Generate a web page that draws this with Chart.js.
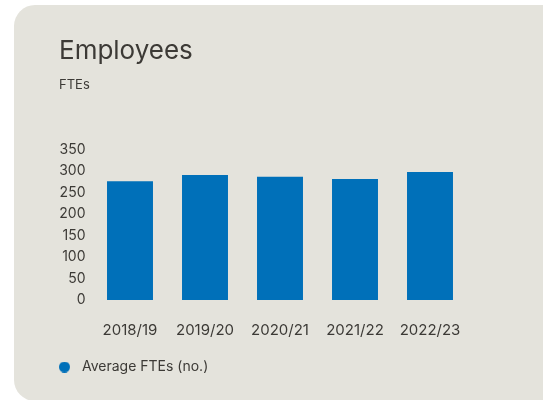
<!DOCTYPE html>
<html>
<head>
<meta charset="utf-8">
<script src="https://cdn.jsdelivr.net/npm/chart.js@4"></script>
<style>
    html, body { margin: 0; padding: 0; background: #ffffff; overflow: hidden; }
    body { width: 543px; height: 400px; position: relative; }
    .card {
        position: absolute; left: 14px; top: 5px;
        width: 600px; height: 396px;
        background: #e4e3dc; border-radius: 21px;
    }
    .card canvas { position: absolute; left: 0; top: 0; }
</style>
</head>
<body>
<div class="card">
    <canvas id="employees-chart" width="529" height="395"></canvas>
</div>
<script>
// Dados do gráfico
const years = ['2018/19', '2019/20', '2020/21', '2021/22', '2022/23'];
const averageFtes = [277, 291, 287, 282, 298];
const yTicks = [0, 50, 100, 150, 200, 250, 300, 350];

const barColor = '#0070b9';
const textColor = '#3c3a36';
const fontFamily = 'Inter, "Noto Sans", sans-serif';

// Marcador circular da legenda (com espaço à direita antes do texto)
const legendDot = document.createElement('canvas');
legendDot.width = 16;
legendDot.height = 11;
const dotCtx = legendDot.getContext('2d');
dotCtx.fillStyle = barColor;
dotCtx.beginPath();
dotCtx.arc(5.5, 5.5, 5.5, 0, Math.PI * 2);
dotCtx.fill();

const ctx = document.getElementById('employees-chart').getContext('2d');

new Chart(ctx, {
    type: 'bar',
    data: {
        labels: years,
        datasets: [{
            label: 'Average FTEs (no.)',
            data: averageFtes,
            backgroundColor: barColor,
            barPercentage: 0.613,
            categoryPercentage: 1
        }]
    },
    options: {
        responsive: false,
        animation: false,
        layout: {
            padding: { left: 45, right: 75.5, top: 0, bottom: 16 }
        },
        plugins: {
            title: {
                display: true,
                text: 'Employees',
                align: 'start',
                color: textColor,
                font: { family: fontFamily, size: 26, weight: 'normal' },
                padding: { top: 31, bottom: 0 }
            },
            subtitle: {
                display: true,
                text: 'FTEs',
                align: 'start',
                color: textColor,
                font: { family: fontFamily, size: 13, weight: 'normal' },
                padding: { top: 10, bottom: 57 }
            },
            legend: {
                position: 'bottom',
                align: 'start',
                labels: {
                    usePointStyle: true,
                    pointStyle: legendDot,
                    pointStyleWidth: 16,
                    boxHeight: 11,
                    padding: 0,
                    color: textColor,
                    font: { family: fontFamily, size: 14 }
                }
            },
            tooltip: { enabled: false }
        },
        scales: {
            x: {
                grid: { display: false, drawTicks: false },
                border: { display: false },
                ticks: {
                    color: textColor,
                    font: { family: fontFamily, size: 15 },
                    padding: 21
                },
                afterFit: function(scale) { scale.height = 60; }
            },
            y: {
                min: 0,
                max: 350,
                grid: { display: false, drawTicks: false },
                border: { display: false },
                afterBuildTicks: function(scale) {
                    scale.ticks = yTicks.map(v => ({ value: v }));
                },
                ticks: {
                    color: textColor,
                    font: { family: fontFamily, size: 14 },
                    padding: 7
                },
                afterFit: function(scale) { scale.width = 33.5; }
            }
        }
    }
});
</script>
</body>
</html>
